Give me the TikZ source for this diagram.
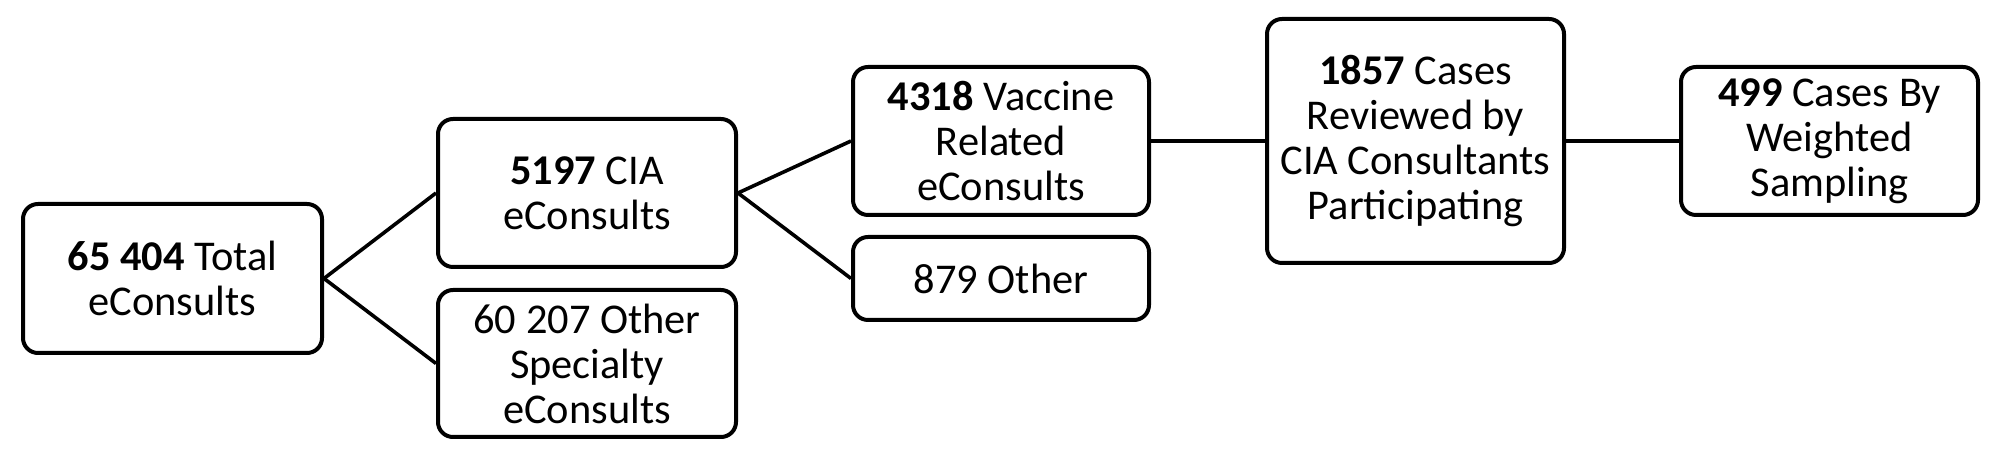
\documentclass[tikz,border=0pt]{standalone}
\usepackage{fontspec}
\setmainfont{Carlito}

\begin{document}
\begin{tikzpicture}[%
      x=0.5pt, y=0.5pt,
      box/.style={draw=black, line width=2pt, rounded corners=7.5pt, align=center,
        inner sep=0pt, font=\fontsize{21.2}{22.5}\selectfont},
      link/.style={draw=black, line width=1.8pt},
      ]
      \useasboundingbox (0,0) rectangle (2008,459);

      \node [box, minimum width=149.5pt, minimum height=74.5pt] (total) at (172.5,180.5)
        {\textbf{65 404} Total\\eConsults};
      \node [box, minimum width=149pt, minimum height=74pt] (cia) at (587,266)
        {\textbf{5197} CIA\\eConsults};
      \node [box, minimum width=149pt, minimum height=73.5pt] (spec) at (587,95.5)
        {60 207 Other\\Specialty\\eConsults};
      \node [box, minimum width=148pt, minimum height=74pt] (vacc) at (1001,318)
        {\textbf{4318} Vaccine\\Related\\eConsults};
      \node [box, minimum width=148pt, minimum height=41.5pt] (other) at (1001,180.5)
        {879 Other};
      \node [box, minimum width=148.5pt, minimum height=122pt] (rev) at (1415.5,318)
        {\textbf{1857} Cases\\Reviewed by\\CIA Consultants\\Participating};
      \node [box, minimum width=148.5pt, minimum height=74pt] (samp) at (1829.5,318)
        {\textbf{499} Cases By\\Weighted\\Sampling};

      \draw [link] (total.east) -- (cia.west);
      \draw [link] (total.east) -- (spec.west);
      \draw [link] (cia.east) -- (vacc.west);
      \draw [link] (cia.east) -- (other.west);
      \draw [link] (vacc.east) -- (rev.west);
      \draw [link] (rev.east) -- (samp.west);
      \end{tikzpicture}
\end{document}
